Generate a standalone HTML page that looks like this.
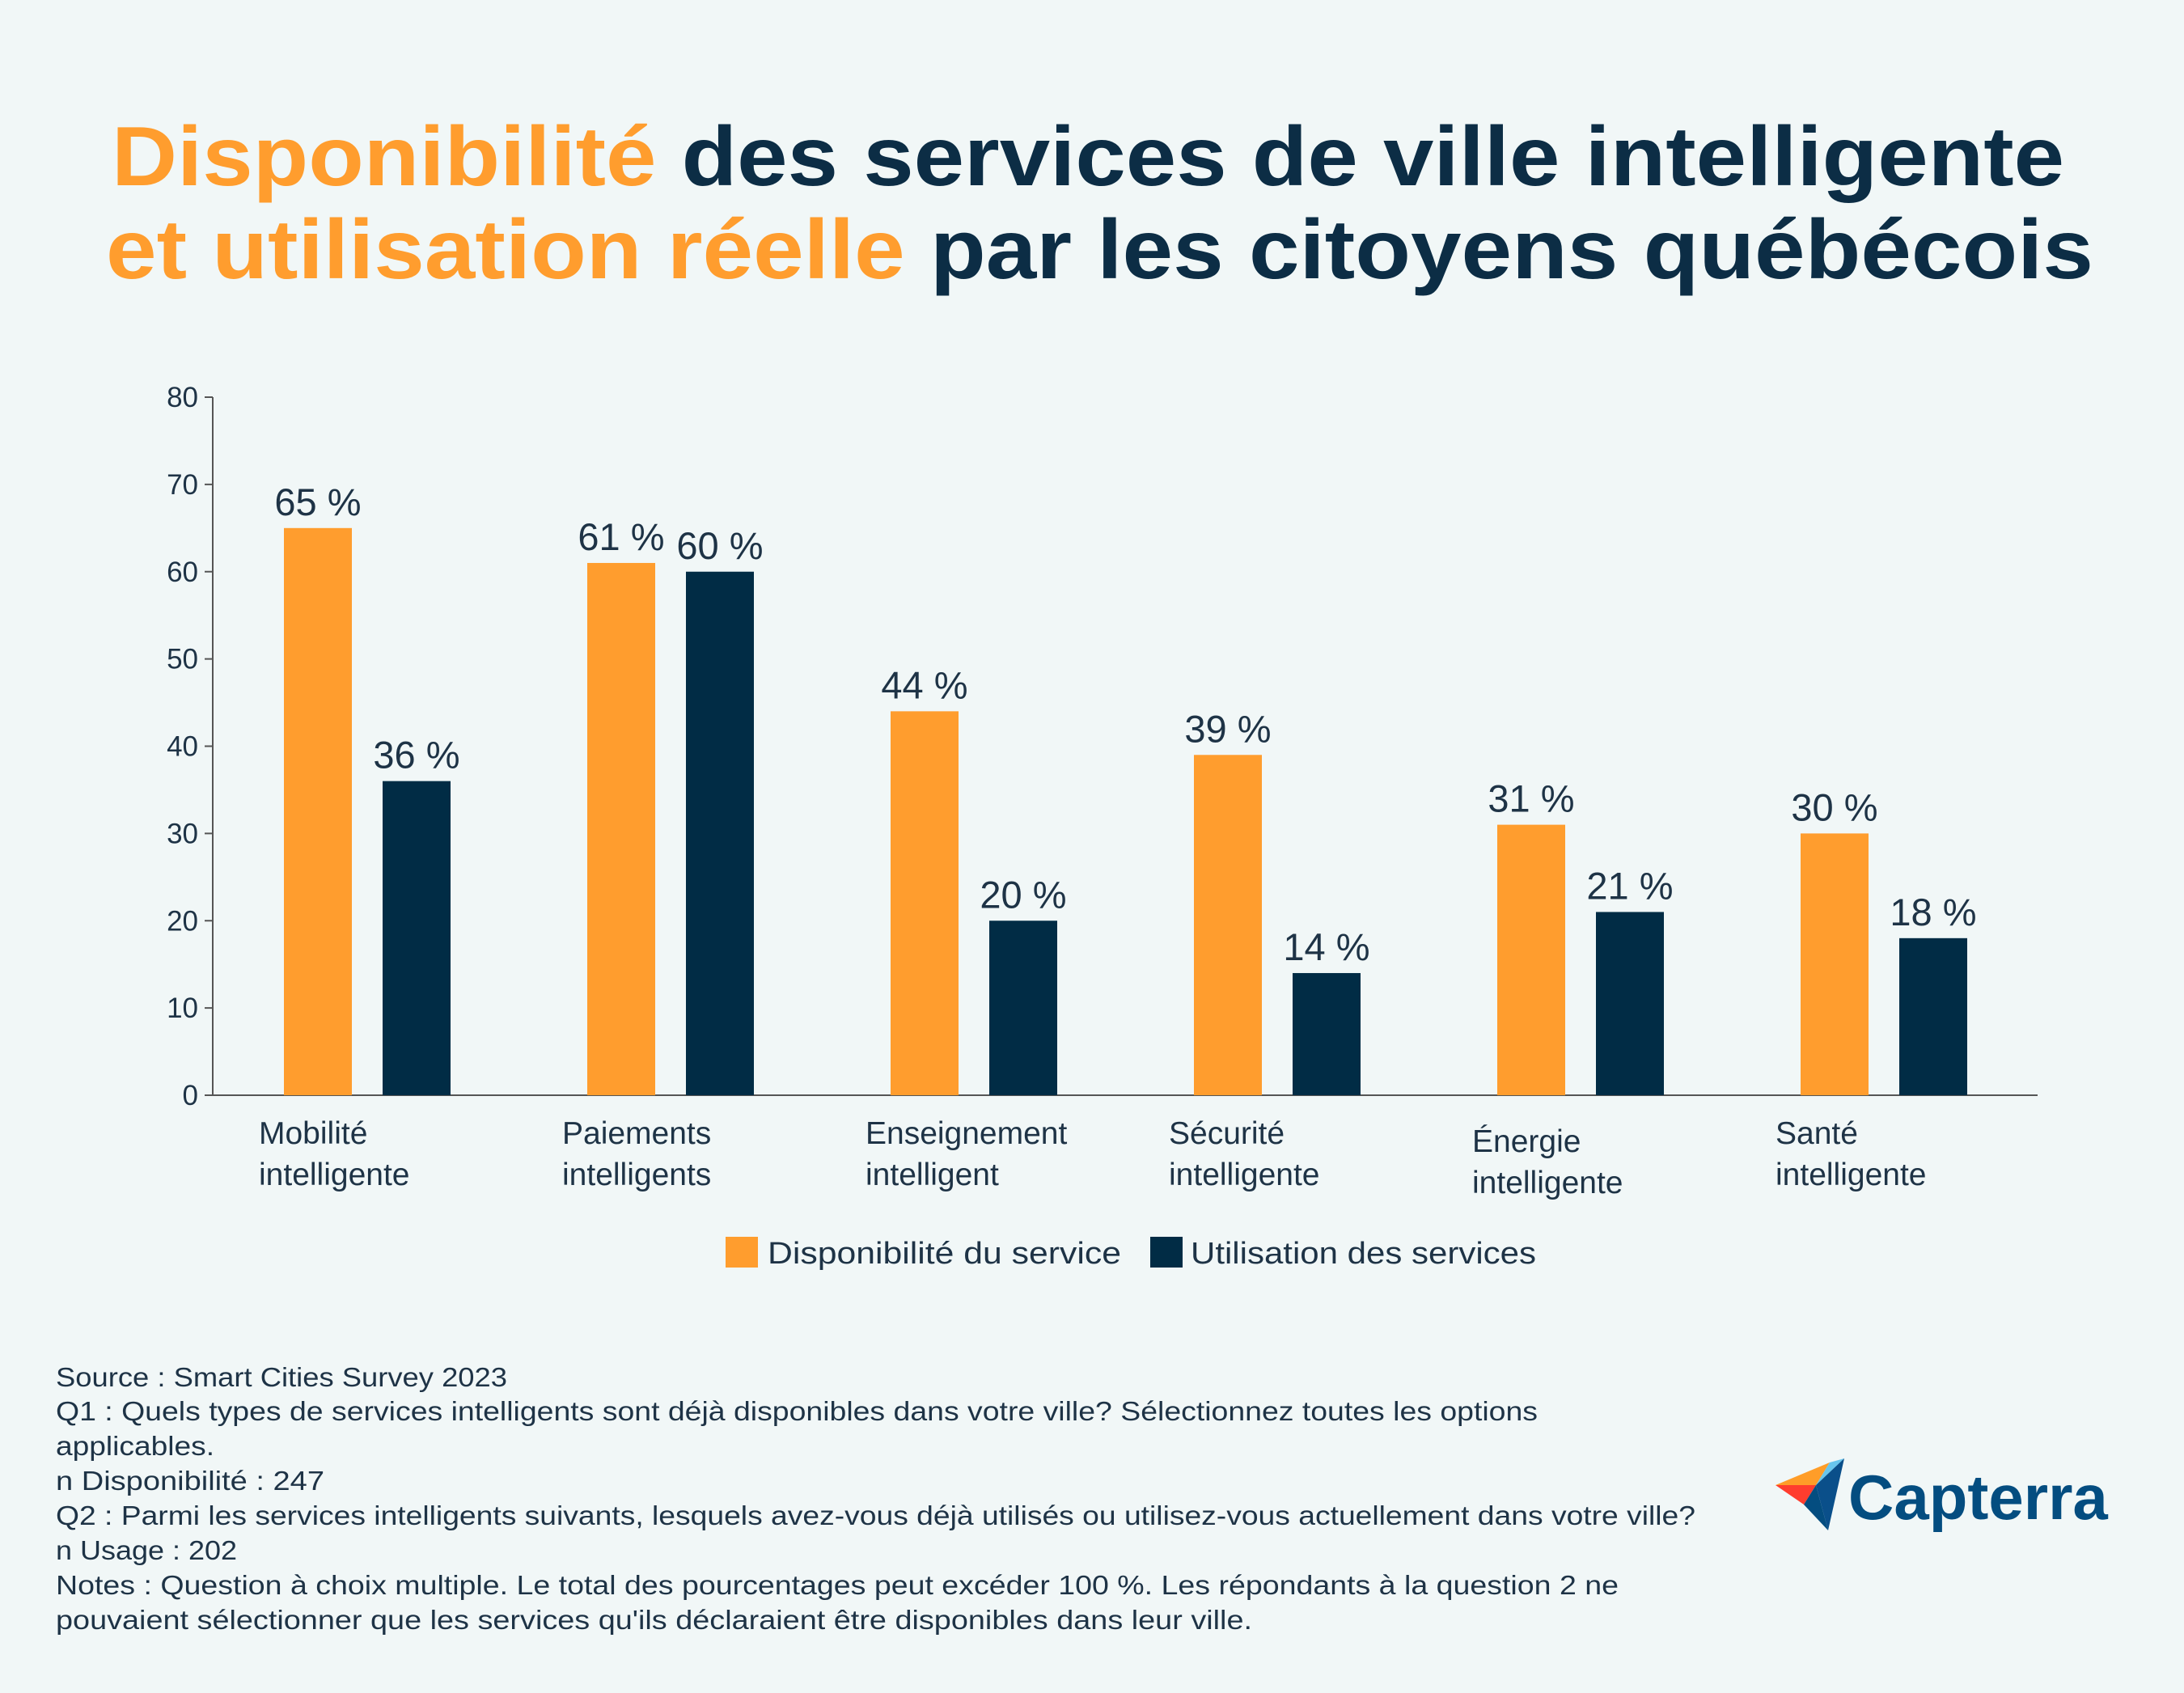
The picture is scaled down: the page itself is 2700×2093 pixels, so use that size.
<!DOCTYPE html>
<html><head><meta charset="utf-8"><style>
html,body{margin:0;padding:0;background:#f1f7f7}
svg{display:block}
text{font-family:"Liberation Sans",sans-serif}
</style></head><body>
<svg id="chart" width="2700" height="2093" viewBox="0 0 2700 2093">
<rect width="2700" height="2093" fill="#f1f7f7"/>
<text x="138" y="229" font-size="104" font-weight="bold" textLength="2414" lengthAdjust="spacingAndGlyphs"><tspan fill="#ff9d2e">Disponibilité</tspan><tspan fill="#0c2d45"> des services de ville intelligente</tspan></text>
<text x="131" y="344" font-size="104" font-weight="bold" textLength="2457" lengthAdjust="spacingAndGlyphs"><tspan fill="#ff9d2e">et utilisation réelle</tspan><tspan fill="#0c2d45"> par les citoyens québécois</tspan></text>
<g id="plot"></g>
<g>
<rect x="897" y="1529" width="40" height="38" fill="#ff9d2e"/>
<text x="949" y="1562" font-size="38" fill="#1e3346" textLength="437" lengthAdjust="spacingAndGlyphs">Disponibilité du service</text>
<rect x="1422" y="1529" width="40" height="38" fill="#012c45"/>
<text x="1472" y="1562" font-size="38" fill="#1e3346" textLength="427" lengthAdjust="spacingAndGlyphs">Utilisation des services</text>
</g>
<g font-size="33" fill="#1e3346" lengthAdjust="spacingAndGlyphs">
<text x="69" y="1714" textLength="558" lengthAdjust="spacingAndGlyphs">Source : Smart Cities Survey 2023</text>
<text x="69" y="1756" textLength="1832" lengthAdjust="spacingAndGlyphs">Q1 : Quels types de services intelligents sont déjà disponibles dans votre ville? Sélectionnez toutes les options</text>
<text x="69" y="1799" textLength="196" lengthAdjust="spacingAndGlyphs">applicables.</text>
<text x="69" y="1842" textLength="332" lengthAdjust="spacingAndGlyphs">n Disponibilité : 247</text>
<text x="69" y="1885" textLength="2027" lengthAdjust="spacingAndGlyphs">Q2 : Parmi les services intelligents suivants, lesquels avez-vous déjà utilisés ou utilisez-vous actuellement dans votre ville?</text>
<text x="69" y="1928" textLength="224" lengthAdjust="spacingAndGlyphs">n Usage : 202</text>
<text x="69" y="1971" textLength="1932" lengthAdjust="spacingAndGlyphs">Notes : Question à choix multiple. Le total des pourcentages peut excéder 100 %. Les répondants à la question 2 ne</text>
<text x="69" y="2014" textLength="1479" lengthAdjust="spacingAndGlyphs">pouvaient sélectionner que les services qu'ils déclaraient être disponibles dans leur ville.</text>
</g>
<g>
<polygon points="2195,1836 2262,1808 2245,1836" fill="#ff9d28"/>
<polygon points="2195,1836 2245,1836 2230,1860" fill="#ff3d2e"/>
<polygon points="2262,1808 2245,1836 2280,1803" fill="#68c5ed"/>
<polygon points="2245,1836 2280,1803 2260,1892" fill="#0a4f8a"/>
<polygon points="2245,1836 2230,1860 2260,1892" fill="#044d80"/>
<text x="2285" y="1878" font-size="78" font-weight="bold" fill="#044d80">Capterra</text>
</g>
</svg>
<script>
const categories = [["Mobilité","intelligente"],["Paiements","intelligents"],["Enseignement","intelligent"],["Sécurité","intelligente"],["Énergie","intelligente"],["Santé","intelligente"]];
const availability = [65,61,44,39,31,30];
const usage = [36,60,20,14,21,18];
const yTicks = [0,10,20,30,40,50,60,70,80];
const NS="http://www.w3.org/2000/svg";
const g=document.getElementById('plot');
const X0=263,X1=2519,Y0=1354,Y80=491;
const y=v=>Y0-(Y0-Y80)*v/80;
const groupX=i=>351+i*375;
function el(t,a,txt){const e=document.createElementNS(NS,t);for(const k in a)e.setAttribute(k,a[k]);if(txt!=null)e.textContent=txt;g.appendChild(e);return e;}
yTicks.forEach(t=>{
 const tk=el('line',{x1:X0-10,x2:X0,y1:y(t),y2:y(t),stroke:'#555',"stroke-width":2});
 
 
 const l=el('text',{x:X0-18,y:y(t)+12,"text-anchor":"end","font-size":35,fill:'#1e3346'},String(t));
 
 
});
const ya=el('line',{x1:X0,x2:X0,y1:Y80,y2:Y0,stroke:'#555',"stroke-width":2});


const xa=el('line',{x1:X0,x2:X1,y1:Y0,y2:Y0,stroke:'#555',"stroke-width":2});


categories.forEach((c,i)=>{
 const gx=groupX(i);
 [[availability[i],'#ff9d2e',gx,'bar-availability'],[usage[i],'#012c45',gx+122,'bar-usage']].forEach(([v,col,bx,nm])=>{
  const r=el('rect',{x:bx,y:y(v),width:84,height:Y0-y(v),fill:col});
  
  
  const t=el('text',{x:bx+42,y:y(v)-16,"text-anchor":"middle","font-size":47,fill:'#1e3346'},v+' %');
  
  
 });
 const off=c[0].startsWith('É')?10:0;
 const lx=gx-31;
 const a=el('text',{x:lx,y:1414+off,"font-size":39,fill:'#1e3346'},c[0]);
 
 
 const b=el('text',{x:lx,y:1465+off,"font-size":39,fill:'#1e3346'},c[1]);
 
 
});
</script>
</body></html>
